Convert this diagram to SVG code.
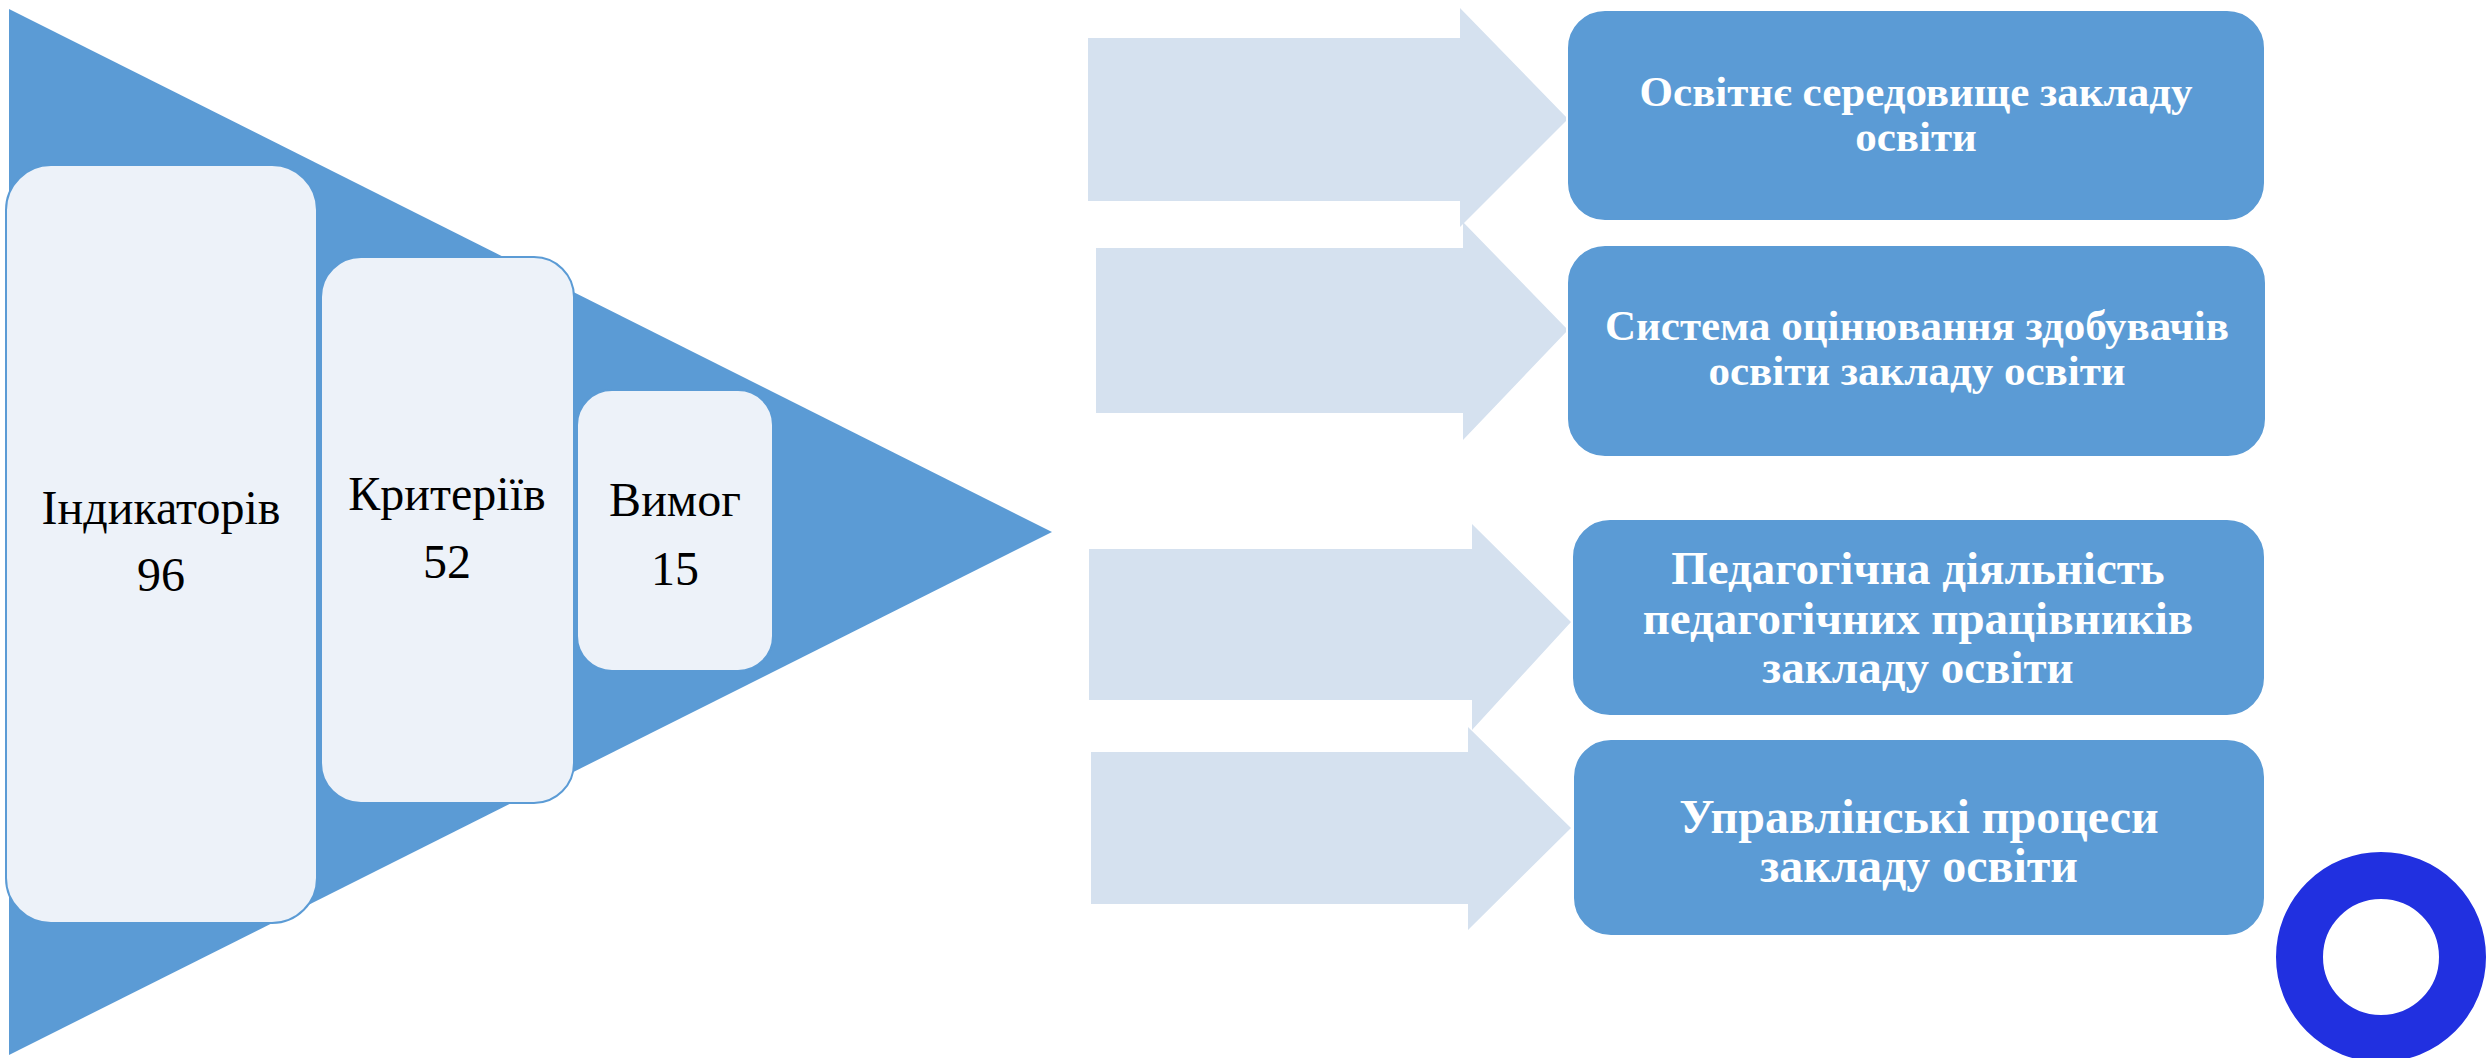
<svg xmlns="http://www.w3.org/2000/svg" width="2488" height="1058" viewBox="0 0 2488 1058">
<style>
.light{fill:#EDF2F9;stroke:#5B9BD5;stroke-width:2}
.lt{font-family:"Liberation Serif","Times New Roman",serif;font-size:48px;fill:#000000;text-anchor:middle}
.arrow{fill:#D5E1EF}
.box{fill:#5B9BD5;stroke:#FFFFFF;stroke-width:2}
.bt{font-family:"Liberation Serif","Times New Roman",serif;font-weight:bold;fill:#FFFFFF;text-anchor:middle}
</style>
<rect width="2488" height="1058" fill="#FFFFFF"/>
<g id="funnel">
<polygon points="9,9 1052,532 9,1055" fill="#5B9BD5"/>
</g>
<g id="node-indicators">
<rect class="light" x="6" y="165" width="311" height="758" rx="45"/>
<text class="lt" x="161" y="524">Індикаторів</text>
<text class="lt" x="161" y="591">96</text>
</g>
<g id="node-criteria">
<rect class="light" x="321" y="257" width="253" height="546" rx="40"/>
<text class="lt" x="447" y="510">Критеріїв</text>
<text class="lt" x="447" y="578">52</text>
</g>
<g id="node-requirements">
<rect class="light" x="577" y="390" width="196" height="281" rx="35" stroke="none"/>
<text class="lt" x="675" y="516">Вимог</text>
<text class="lt" x="675" y="585">15</text>
</g>
<g id="connectors">
<polygon class="arrow" points="1088,38 1460,38 1460,8 1568,119 1460,227 1460,201 1088,201"/>
<polygon class="arrow" points="1096,248 1463,248 1463,222 1568,330 1463,440 1463,413 1096,413"/>
<polygon class="arrow" points="1089,549 1472,549 1472,524 1571,622 1472,730 1472,700 1089,700"/>
<polygon class="arrow" points="1091,752 1468,752 1468,727 1571,828 1468,930 1468,904 1091,904"/>
</g>
<g id="node-environment">
<rect class="box" x="1567" y="10" width="698" height="211" rx="38"/>
<text class="bt" font-size="43" x="1916" y="106">Освітнє середовище закладу</text>
<text class="bt" font-size="43" x="1916" y="151">освіти</text>
</g>
<g id="node-assessment">
<rect class="box" x="1567" y="245" width="699" height="212" rx="38"/>
<text class="bt" font-size="43" x="1917" y="340">Система оцінювання здобувачів</text>
<text class="bt" font-size="43" x="1917" y="385">освіти закладу освіти</text>
</g>
<g id="node-pedagogical">
<rect class="box" x="1572" y="519" width="693" height="197" rx="38"/>
<text class="bt" font-size="47" x="1918" y="584">Педагогічна діяльність</text>
<text class="bt" font-size="47" x="1918" y="634">педагогічних працівників</text>
<text class="bt" font-size="47" x="1918" y="683">закладу освіти</text>
</g>
<g id="node-management">
<rect class="box" x="1573" y="739" width="692" height="197" rx="38"/>
<text class="bt" font-size="48" x="1919" y="833">Управлінські процеси</text>
<text class="bt" font-size="48" x="1919" y="882">закладу освіти</text>
</g>
<g id="ring">
<circle cx="2381" cy="957" r="81.5" fill="none" stroke="#2130E0" stroke-width="47"/>
</g>
</svg>
